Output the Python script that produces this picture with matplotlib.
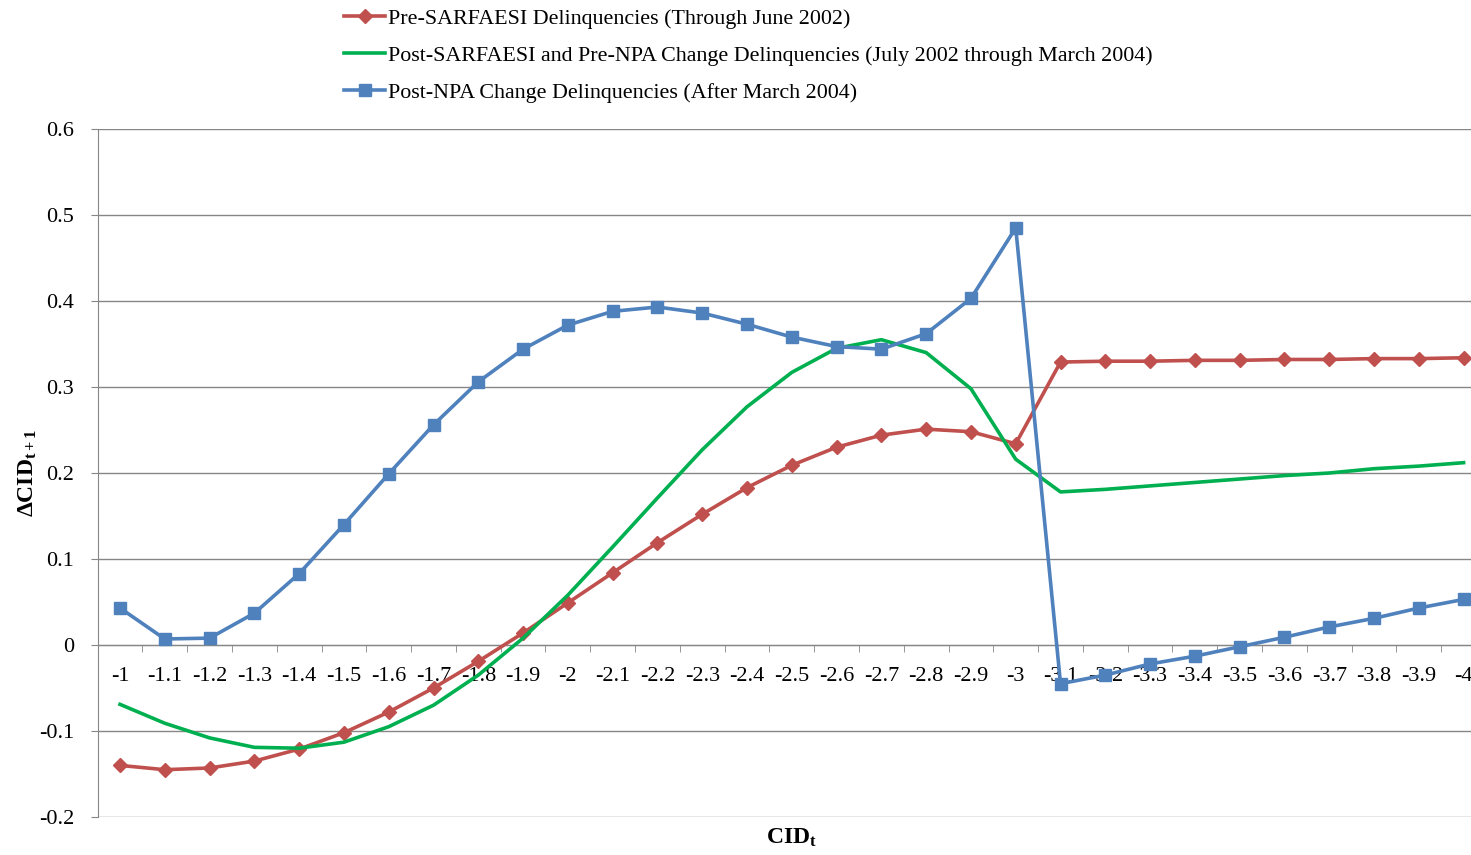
import numpy as np
import matplotlib
matplotlib.use("Agg")
import matplotlib.pyplot as plt

# -----------------------------
# Données
# -----------------------------
cid_labels = ["-1", "-1.1", "-1.2", "-1.3", "-1.4", "-1.5", "-1.6", "-1.7", "-1.8", "-1.9",
              "-2", "-2.1", "-2.2", "-2.3", "-2.4", "-2.5", "-2.6", "-2.7", "-2.8", "-2.9",
              "-3", "-3.1", "-3.2", "-3.3", "-3.4", "-3.5", "-3.6", "-3.7", "-3.8", "-3.9", "-4"]

pre_sarfaesi = [-0.140, -0.145, -0.143, -0.135, -0.121, -0.102, -0.078, -0.050, -0.019, 0.014,
                0.049, 0.084, 0.119, 0.152, 0.183, 0.209, 0.230, 0.244, 0.251, 0.248,
                0.234, 0.329, 0.330, 0.330, 0.331, 0.331, 0.332, 0.332, 0.333, 0.333, 0.334]

post_sarfaesi = [-0.069, -0.091, -0.108, -0.119, -0.120, -0.113, -0.095, -0.070, -0.035, 0.008,
                 0.058, 0.114, 0.171, 0.227, 0.277, 0.317, 0.345, 0.355, 0.340, 0.298,
                 0.216, 0.178, 0.181, 0.185, 0.189, 0.193, 0.197, 0.200, 0.205, 0.208, 0.212]

post_npa = [0.043, 0.007, 0.008, 0.037, 0.083, 0.140, 0.199, 0.256, 0.306, 0.344,
            0.372, 0.388, 0.393, 0.386, 0.373, 0.358, 0.347, 0.344, 0.362, 0.403,
            0.485, -0.045, -0.035, -0.022, -0.013, -0.002, 0.009, 0.021, 0.031, 0.043, 0.053]

lab_pre = "Pre-SARFAESI Delinquencies (Through June 2002)"
lab_post = "Post-SARFAESI and Pre-NPA Change Delinquencies (July 2002 through March 2004)"
lab_npa = "Post-NPA Change Delinquencies (After March 2004)"

# -----------------------------
# Style
# -----------------------------
plt.rcParams["font.family"] = ["Liberation Serif", "DejaVu Serif"]
plt.rcParams["mathtext.fontset"] = "custom"
plt.rcParams["mathtext.rm"] = "Liberation Serif"
plt.rcParams["mathtext.bf"] = "Liberation Serif:bold"
plt.rcParams["mathtext.it"] = "Liberation Serif:italic"

RED = "#C0504D"
GREEN = "#00B050"
BLUE = "#4F81BD"
GRID = "#868686"

fig = plt.figure(figsize=(14.71, 8.55), dpi=100)
ax = fig.add_axes([97.6 / 1471, 1 - 817 / 855, (1486 - 97.6) / 1471, (817 - 129) / 855])

x = np.arange(len(cid_labels))
ax.plot(x, pre_sarfaesi, color=RED, lw=2.6, marker="D", ms=7, label=lab_pre, zorder=3)
ax.plot(x, post_sarfaesi, color=GREEN, lw=2.6, label=lab_post, zorder=3)
ax.plot(x, post_npa, color=BLUE, lw=2.6, marker="s", ms=8.5, label=lab_npa, zorder=4)

ax.set_ylim(-0.2, 0.6)
ax.set_xlim(-0.5, len(cid_labels) - 0.5)
ax.set_yticks(np.arange(-0.2, 0.61, 0.1))
ax.set_yticklabels(["-0.2", "-0.1", "0", "0.1", "0.2", "0.3", "0.4", "0.5", "0.6"])
ax.yaxis.grid(True, color=GRID, lw=1)
ax.set_axisbelow(True)

# axe des x au niveau de y = 0, graduations entre les catégories
ax.spines["bottom"].set_position(("data", 0))
ax.spines["bottom"].set_color(GRID)
ax.spines["left"].set_color(GRID)
ax.spines["top"].set_visible(False)
ax.spines["right"].set_visible(False)

ax.set_xticks(x)
ax.set_xticklabels(cid_labels)
ax.set_xticks(x[:-1] + 0.5, minor=True)
ax.tick_params(axis="x", which="major", length=0, pad=16, labelsize=16)
ax.tick_params(axis="x", which="minor", length=5, color=GRID, direction="out")
ax.tick_params(axis="y", length=5, color=GRID, labelsize=16, pad=12)

ax.set_xlabel(r"$\mathbf{CID_t}$", fontsize=17)
ax.xaxis.set_label_coords(0.5, -0.014)
ax.set_ylabel(r"$\mathbf{\Delta CID_{t+1}}$", fontsize=17)
ax.yaxis.set_label_coords(-0.042, 0.5)

fig.legend(loc="upper left", bbox_to_anchor=(324 / 1471, 1.0135), frameon=False,
           fontsize=15.8, handlelength=1.9, handletextpad=0.12, labelspacing=0.76)

fig.savefig("out.png", dpi=100)
